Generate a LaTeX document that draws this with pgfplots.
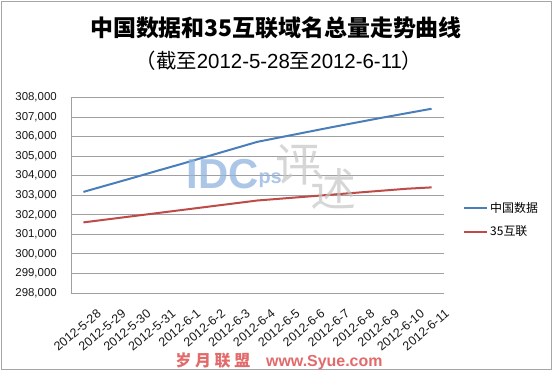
\documentclass[border=0pt]{standalone}
\usepackage{fontspec}
\setmainfont{Liberation Sans}
\newfontfamily\cjk{Noto Sans CJK SC}
\usepackage{pgfplots}
\usepackage{pgfplotstable}
\pgfplotsset{compat=1.18}
\definecolor{cblue}{HTML}{4A7EBB}
\definecolor{cred}{HTML}{BE4B48}
\definecolor{cgrid}{HTML}{A0A0A0}
\definecolor{cfoot}{HTML}{E26A6A}
\definecolor{wblue}{HTML}{8FB4DE}
\pgfplotstableread{
x y
0 303170
1 303530
2 303890
3 304260
4 304620
5 304990
6 305360
7 305730
8 305980
9 306230
10 306480
11 306720
12 306960
13 307190
14 307420
}\zgsj
\pgfplotstableread{
x y
0 301610
1 301770
2 301930
3 302090
4 302250
5 302410
6 302570
7 302730
8 302830
9 302930
10 303030
11 303130
12 303230
13 303330
14 303400
}\hulian
\begin{document}
\begin{tikzpicture}[x=1bp,y=1bp]
\fill[white] (0,0) rectangle (555,372);
\draw[gray!70, line width=0.8bp] (1.5,2.5) rectangle (551,370.5);
\begin{axis}[
  at={(71bp,79bp)}, anchor=south west,
  width=373bp, height=195.6bp, scale only axis,
  xmin=-0.5, xmax=14.5, ymin=298000, ymax=308000,
  ytick={298000,299000,...,308000},
  xtick={0,...,14},
  xticklabels={2012-5-28,2012-5-29,2012-5-30,2012-5-31,2012-6-1,2012-6-2,2012-6-3,2012-6-4,2012-6-5,2012-6-6,2012-6-7,2012-6-8,2012-6-9,2012-6-10,2012-6-11},
  axis lines*=left,
  axis line style={cgrid, line width=0.8bp},
  ymajorgrids, grid style={cgrid, line width=0.8bp},
  tick style={draw=none},
  scaled y ticks=false,
  /pgf/number format/fixed,
  /pgf/number format/precision=0,
  /pgf/number format/1000 sep={,},
  /pgf/number format/assume math mode=true,
  ticklabel style={font=\fontsize{11.5}{13}\selectfont, text=black!90},
  yticklabel style={inner sep=0pt, xshift=-14bp},
  xticklabel style={rotate=40, anchor=north east, inner sep=0pt, yshift=-20bp, xshift=0bp, font=\fontsize{12.5}{13}\selectfont},
  legend style={at={(1.043,0.374)}, anchor=west, draw=none, fill=none,
    font=\cjk\fontsize{12}{14}\selectfont, row sep=8bp},
  legend cell align=left,
  legend image code/.code={\draw[#1] (0bp,0bp) -- (23bp,0bp);},
]
\addplot[cblue, line width=2bp] table {\zgsj};
\addlegendentry{中国数据}
\addplot[cred, line width=2bp] table {\hulian};
\addlegendentry{35互联}
\end{axis}
\node[font=\cjk\bfseries\fontsize{23}{26}\selectfont] at (276,344) {中国数据和35互联域名总量走势曲线};
\node[font=\fontsize{20.5}{22}\selectfont] at (279,311) {{\cjk （截至}2012-5-28{\cjk 至}2012-6-11{\cjk ）}};
\node[anchor=base west, text=wblue, opacity=0.75, font=\bfseries\fontsize{42}{44}\selectfont] at (183,184) {IDC};
\node[anchor=base west, text=wblue, opacity=0.75, font=\bfseries\fontsize{20}{22}\selectfont] at (255,189) {ps};
\node[text=gray!45, opacity=0.7, font=\cjk\fontsize{46}{48}\selectfont] at (298,207) {评};
\node[text=gray!45, opacity=0.7, font=\cjk\fontsize{46}{48}\selectfont] at (333,183) {述};
\node[text=cfoot, font=\bfseries\fontsize{16}{17}\selectfont, inner sep=0pt] at (279,11) {{\cjk 岁\ 月\ 联\ 盟}\quad www.Syue.com};
\end{tikzpicture}
\end{document}
